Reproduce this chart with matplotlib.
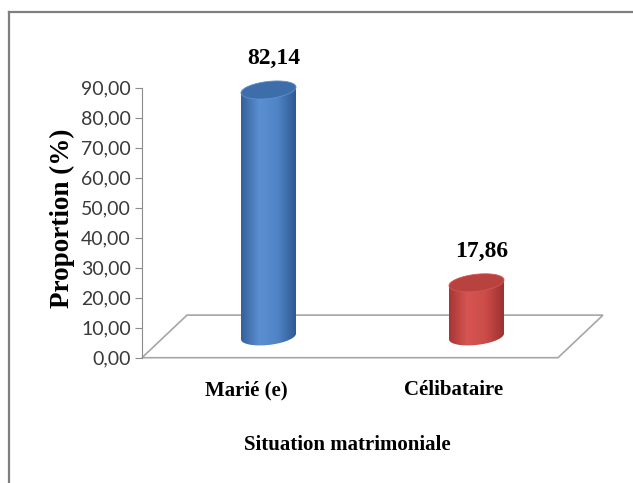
import numpy as np
import matplotlib
matplotlib.use("Agg")
import matplotlib.pyplot as plt
from matplotlib.path import Path
from matplotlib.patches import PathPatch, Polygon
from matplotlib.colors import LinearSegmentedColormap
from matplotlib.lines import Line2D

categories = ["Marié (e)", "Célibataire"]
values = [82.14, 17.86]
value_labels = ["82,14", "17,86"]
yticks = [0, 10, 20, 30, 40, 50, 60, 70, 80, 90]

body_colors = [["#35609a", "#5a8fd2", "#4f84c6", "#2f5a92"],
               ["#a83634", "#d65552", "#cc4c49", "#9c3230"]]
top_colors = ["#3e6ea9", "#b8423f"]

W, H = 633, 483
fig = plt.figure(figsize=(W / 100, H / 100), dpi=100)
ax = fig.add_axes([0, 0, 1, 1])

# pixel geometry: x in px (origin at y axis), y in value units (3 px per unit)
x0, y0px, ppu = 142, 357.7, 3.0
ax.set_xlim(-x0, W - x0)
ax.set_ylim((y0px - H) / ppu, y0px / ppu)

for s in ["top", "right", "bottom"]:
    ax.spines[s].set_visible(False)
ax.spines["left"].set_position(("data", 0))
ax.spines["left"].set_bounds(0, 90)
ax.spines["left"].set_color("#8c8c8c")
ax.set_xticks([])
ax.set_yticks(yticks)
ax.set_yticklabels([("%.2f" % t).replace(".", ",") for t in yticks])
ax.tick_params(axis="y", direction="out", length=5, color="#8c8c8c",
               labelsize=14, labelcolor="#3a3a3a", pad=3)
for lab in ax.get_yticklabels():
    lab.set_family("Lato")

# floor
floor_w, dx, dy = 416, 45, 14.2
floor = Polygon([(0, 0), (floor_w, 0), (floor_w + dx, dy), (dx, dy)],
                closed=True, facecolor="white", edgecolor="#a6a6a6", lw=1.2)
ax.add_patch(floor)

a, b, shear = 27.5, 2.85, 0.035
t = np.linspace(0, 2 * np.pi, 200)

for i, (v, lab) in enumerate(zip(values, value_labels)):
    front = floor_w * (2 * i + 1) / 4
    cx, cb = front + dx / 2, dy / 2
    ct = cb + v

    # body: bottom-front half arc, then straight up to the top
    tt = np.linspace(0, np.pi, 100)
    xs_bot = cx + a * np.cos(np.pi + tt)
    ys_bot = cb - b * np.sin(tt) + shear * (xs_bot - cx)
    xs_top = xs_bot[::-1]
    ys_top = ct + shear * (xs_top - cx)
    verts = np.vstack([np.column_stack([xs_bot, ys_bot]),
                       np.column_stack([xs_top, ys_top]),
                       [[xs_bot[0], ys_bot[0]]]])
    body = PathPatch(Path(verts, closed=True), facecolor="none", edgecolor="none")
    ax.add_patch(body)
    cmap = LinearSegmentedColormap.from_list("c%d" % i, body_colors[i])
    grad = np.linspace(0, 1, 256).reshape(1, -1)
    im = ax.imshow(grad, cmap=cmap, aspect="auto",
                   extent=[cx - a, cx + a, cb - b - 2, ct + b + 2], zorder=3)
    im.set_clip_path(body)

    # top ellipse
    top_x = cx + a * np.cos(t)
    top_y = ct + b * np.sin(t) + shear * (top_x - cx)
    ax.add_patch(Polygon(np.column_stack([top_x, top_y]), closed=True,
                         facecolor=top_colors[i], edgecolor=body_colors[i][1],
                         lw=0.6, zorder=4))

    ax.text(cx + 5, ct + 10.5, lab, ha="center", va="center", fontsize=17,
            fontweight="bold", family="Liberation Serif")
    ax.text(front, -10.8, categories[i], ha="center", va="center", fontsize=15,
            fontweight="bold", family="Liberation Serif")

ax.text(-80, (y0px - 218) / ppu, "Proportion (%)", rotation=90, ha="center",
        va="center", fontsize=19.5, fontweight="bold", family="Liberation Serif")
ax.text(347 - x0, (y0px - 445) / ppu, "Situation matrimoniale", ha="center",
        va="center", fontsize=15, fontweight="bold", family="Liberation Serif")

# outer frame
fig.add_artist(Line2D([9 / W, 1], [1 - 12 / H, 1 - 12 / H], color="#7f7f7f", lw=1.6))
fig.add_artist(Line2D([9 / W, 9 / W], [0, 1 - 12 / H], color="#7f7f7f", lw=1.6))

fig.savefig("out.png", dpi=100)
